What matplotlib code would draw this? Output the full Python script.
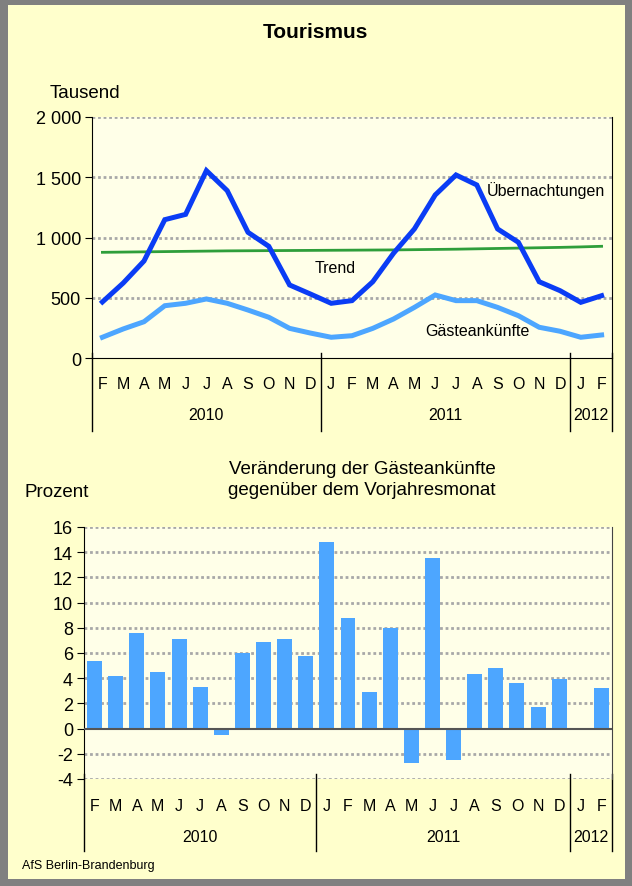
import numpy as np
import matplotlib.pyplot as plt
from matplotlib.patches import Rectangle
import matplotlib.transforms as mtransforms

plt.rcParams['font.family'] = ['Liberation Sans', 'DejaVu Sans']

W, H = 632, 887

# data
months = ['F', 'M', 'A', 'M', 'J', 'J', 'A', 'S', 'O', 'N', 'D',
          'J', 'F', 'M', 'A', 'M', 'J', 'J', 'A', 'S', 'O', 'N', 'D',
          'J', 'F']
years = ['2010', '2011', '2012']
year_bounds = [-0.5, 10.5, 22.5, 24.5]

uebernachtungen = [465, 622, 805, 1148, 1192, 1555, 1389, 1043, 927, 606, 531,
                   454, 476, 633, 870, 1071, 1353, 1519, 1436, 1071, 960, 633, 559,
                   462, 517]
gaesteankuenfte = [172, 241, 301, 434, 454, 490, 454, 398, 338, 246, 207,
                   172, 185, 246, 324, 420, 523, 476, 476, 420, 351, 255, 222,
                   172, 191]
trend = [877, 879, 881, 883, 885, 887, 889, 890, 891, 892, 893,
         894, 895, 896, 897, 899, 901, 903, 906, 909, 912, 915, 918,
         922, 927]

veraenderung = [5.4, 4.2, 7.6, 4.5, 7.1, 3.3, -0.5, 6.0, 6.9, 7.1, 5.8,
                14.8, 8.8, 2.9, 8.0, -2.7, 13.5, -2.5, 4.3, 4.8, 3.6, 1.7, 3.9,
                0.05, 3.2]

top_ticks = [0, 500, 1000, 1500, 2000]
top_ticklabels = ['0', '500', '1 000', '1 500', '2 000']
bot_ticks = [-4, -2, 0, 2, 4, 6, 8, 10, 12, 14, 16]

dark_blue = '#0A3CF5'
light_blue = '#4DA6FF'
green = '#2E9E3A'
panel = '#FFFFCC'
plot_bg = '#FFFFE8'
grid_col = '#A8A8A8'


def pax(x0, y0, x1, y1):
    return fig.add_axes([x0 / W, 1 - y1 / H, (x1 - x0) / W, (y1 - y0) / H])


def ftext(x, y, s, **kw):
    fig.text(x / W, 1 - y / H, s, **kw)


def month_axis(ax, ax_h, month_off, year_off, line_end):
    x = np.arange(len(months))
    ax.set_xlim(-0.5, len(months) - 0.5)
    ax.set_xticks(x)
    ax.set_xticklabels(months, fontsize=11.5)
    ax.tick_params(axis='x', length=0, pad=month_off)
    tr = mtransforms.blended_transform_factory(ax.transData, ax.transAxes)
    for i, yr in enumerate(years):
        xc = (year_bounds[i] + year_bounds[i + 1]) / 2
        ax.text(xc, -year_off / ax_h, yr, transform=tr, ha='center',
                va='center', fontsize=11.5)
    for b in year_bounds:
        ax.plot([b, b], [5 / ax_h, -line_end / ax_h], transform=tr,
                color='black', lw=1, clip_on=False)


fig = plt.figure(figsize=(W / 100, H / 100), dpi=100, facecolor='#808080')
fig.patches.append(Rectangle((8 / W, 1 - 880 / H), (625 - 8) / W, (880 - 6) / H,
                             transform=fig.transFigure, facecolor=panel,
                             edgecolor='none', zorder=-10))

# ---- top chart
ax1 = pax(92, 118, 612, 359)
ax1.set_facecolor(plot_bg)
x = np.arange(len(months))
ax1.plot(x, trend, color=green, lw=2, zorder=3)
ax1.plot(x, gaesteankuenfte, color=light_blue, lw=3.6, zorder=4,
         solid_joinstyle='miter')
ax1.plot(x, uebernachtungen, color=dark_blue, lw=3.6, zorder=5,
         solid_joinstyle='miter')
ax1.set_ylim(0, 2000)
ax1.set_yticks(top_ticks)
ax1.set_yticklabels(top_ticklabels, fontsize=13)
ax1.tick_params(axis='y', length=5, direction='out', pad=3)
for t in top_ticks[1:]:
    ax1.axhline(t, color=grid_col, lw=2, ls=(0, (1, 1)), zorder=1)
for s in ['left', 'bottom', 'right']:
    ax1.spines[s].set_color('black')
ax1.spines['top'].set_visible(False)
month_axis(ax1, 241, 13, 56, 73)

ax1.text(18.5, 1400, 'Übernachtungen', fontsize=11.5, va='center', zorder=6)
ax1.text(11.2, 747, 'Trend', fontsize=11.5, va='center', ha='center', zorder=6)
ax1.text(15.5, 230, 'Gästeankünfte', fontsize=11.5, va='center', zorder=6)

ftext(315, 33, 'Tourismus', fontsize=15, fontweight='bold', ha='center',
      va='center')
ftext(50, 93, 'Tausend', fontsize=13.5, va='center')

# ---- bottom chart
ax2 = pax(84, 528, 612, 780)
ax2.set_facecolor(plot_bg)
ax2.bar(x, veraenderung, width=0.71, color=light_blue, zorder=3)
ax2.set_ylim(-4, 16)
ax2.set_yticks(bot_ticks)
ax2.set_yticklabels([str(t) for t in bot_ticks], fontsize=13)
ax2.tick_params(axis='y', length=5, direction='out', pad=3)
for t in bot_ticks:
    if t != 0:
        ax2.axhline(t, color=grid_col, lw=2, ls=(0, (1, 1)), zorder=1)
ax2.axhline(0, color='#555555', lw=1.5, zorder=4)
ax2.spines['left'].set_color('black')
ax2.spines['right'].set_color('#444444')
ax2.spines['top'].set_visible(False)
ax2.spines['bottom'].set_visible(False)
month_axis(ax2, 252, 14, 58, 72)

ftext(362, 480, 'Veränderung der Gästeankünfte\ngegenüber dem Vorjahresmonat',
      fontsize=13.5, ha='center', va='center', multialignment='center',
      linespacing=1.35)
ftext(25, 493, 'Prozent', fontsize=13.5, va='center')
ftext(22, 866, 'AfS Berlin-Brandenburg', fontsize=9, va='center')

fig.savefig('out.png', dpi=100, facecolor=fig.get_facecolor())
